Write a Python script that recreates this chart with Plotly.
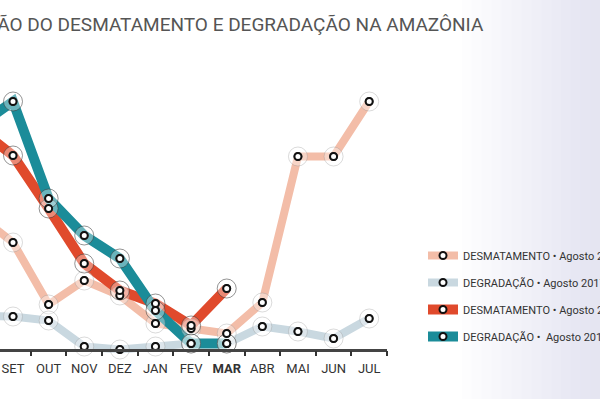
import plotly.graph_objects as go

months = ["AGO", "SET", "OUT", "NOV", "DEZ", "JAN", "FEV", "MAR", "ABR", "MAI", "JUN", "JUL"]
month_labels = ["AGO", "SET", "OUT", "NOV", "DEZ", "JAN", "FEV", "<b>MAR</b>", "ABR", "MAI", "JUN", "JUL"]

# km²
desmat_17_18 = [270, 214, 90, 138, 108, 52, 42, 32, 94, 386, 386, 496]
degrad_17_18 = [68, 66, 58, 6, 0, 6, 12, 12, 46, 36, 22, 62]
desmat_18_19 = [444, 388, 282, 172, 118, 92, 48, 122]
degrad_18_19 = [446, 496, 302, 228, 182, 78, 12, 12]

series_names = [
    "DESMATAMENTO • Agosto 2017 - Julho 2018",
    "DEGRADAÇÃO • Agosto 2017 - Julho 2018",
    "DESMATAMENTO • Agosto 2018 - Julho 2019",
    "DEGRADAÇÃO •  Agosto 2018 - Julho 2019",
]
series_values = [desmat_17_18, degrad_17_18, desmat_18_19, degrad_18_19]
series_colors = ["#F3BDA8", "#C9D8E0", "#E04A2C", "#1B8C99"]
series_widths = [8, 8, 10, 10]
halo_lines = ["rgba(150,150,150,0.35)", "rgba(150,150,150,0.35)",
              "rgba(60,60,60,0.55)", "rgba(60,60,60,0.55)"]

FONT = "Roboto, Liberation Sans, sans-serif"

fig = go.Figure()

for i, (name, vals, col, w) in enumerate(zip(series_names, series_values, series_colors, series_widths)):
    fig.add_trace(go.Scatter(
        x=months[:len(vals)], y=vals, name=name, mode="lines+markers",
        line=dict(color=col, width=w),
        marker=dict(size=7, color="white", line=dict(color="#111", width=2)),
        xaxis="x2", yaxis="y2", legendgroup=f"g{i}", hoverinfo="skip",
    ))

for i, (vals, hl) in enumerate(zip(series_values, halo_lines)):
    fig.add_trace(go.Scatter(
        x=months[:len(vals)], y=vals, mode="markers", showlegend=False,
        marker=dict(size=19, color="rgba(255,255,255,0.35)", line=dict(color=hl, width=1)),
        xaxis="x2", yaxis="y2", hoverinfo="skip", cliponaxis=False,
    ))

for i, vals in enumerate(series_values):
    fig.add_trace(go.Scatter(
        x=months[:len(vals)], y=vals, mode="markers", showlegend=False,
        marker=dict(size=7, color="white", line=dict(color="#111", width=2)),
        xaxis="x2", yaxis="y2", hoverinfo="skip", cliponaxis=False,
    ))

# soft background gradient on the right
for k in range(14):
    x0 = 0.77 + k * 0.0165
    fig.add_shape(type="rect", xref="paper", yref="paper", x0=x0, x1=1.0, y0=0, y1=1,
                  fillcolor="rgba(205,216,224,0.045)", line=dict(width=0), layer="below")

fig.update_layout(
    width=600, height=399,
    margin=dict(l=0, r=0, t=0, b=0, autoexpand=False),
    paper_bgcolor="white", plot_bgcolor="rgba(0,0,0,0)",
    showlegend=True,
    legend=dict(x=0.705, y=(399 - 241) / 399, xanchor="left", yanchor="top",
                font=dict(family=FONT, size=11, color="#333"),
                bgcolor="rgba(0,0,0,0)", tracegroupgap=8, itemwidth=30),
    xaxis=dict(domain=[0, 1], range=[0, 600], showgrid=True, gridcolor="#f0f0f0",
               tick0=53, dtick=68, showticklabels=False, zeroline=False, ticks=""),
    yaxis=dict(domain=[0, 1], range=[399, 0], showgrid=True, gridcolor="#f0f0f0",
               tick0=67, dtick=66.5, showticklabels=False, zeroline=False, ticks=""),
    xaxis2=dict(domain=[0, 0.645], range=[0.635, 11.5], type="category",
                categoryorder="array", categoryarray=months,
                tickmode="array", tickvals=months, ticktext=month_labels,
                tickson="boundaries", ticks="outside", ticklen=5, tickwidth=1.5,
                tickcolor="#333", showline=True, linecolor="#444", linewidth=2.5,
                anchor="free", position=(399 - 349.5) / 399, showgrid=False,
                ticklabelstandoff=6,
                tickangle=0, tickfont=dict(family=FONT, size=13, color="#333")),
    yaxis2=dict(domain=[(399 - 362) / 399, 1], range=[-25, 699], anchor="x2",
                showgrid=False, showticklabels=False, zeroline=False, showline=False, ticks=""),
    annotations=[dict(
        text="EVOLUÇÃO DO DESMATAMENTO E DEGRADAÇÃO NA AMAZÔNIA",
        xref="paper", yref="paper", x=486 / 600, y=(399 - 24) / 399,
        xanchor="right", yanchor="middle", showarrow=False,
        font=dict(family=FONT, size=19, color="#555"),
    )],
)

fig.write_html("out.html", config={"displayModeBar": False},
               post_script="document.body.style.margin='0';")
